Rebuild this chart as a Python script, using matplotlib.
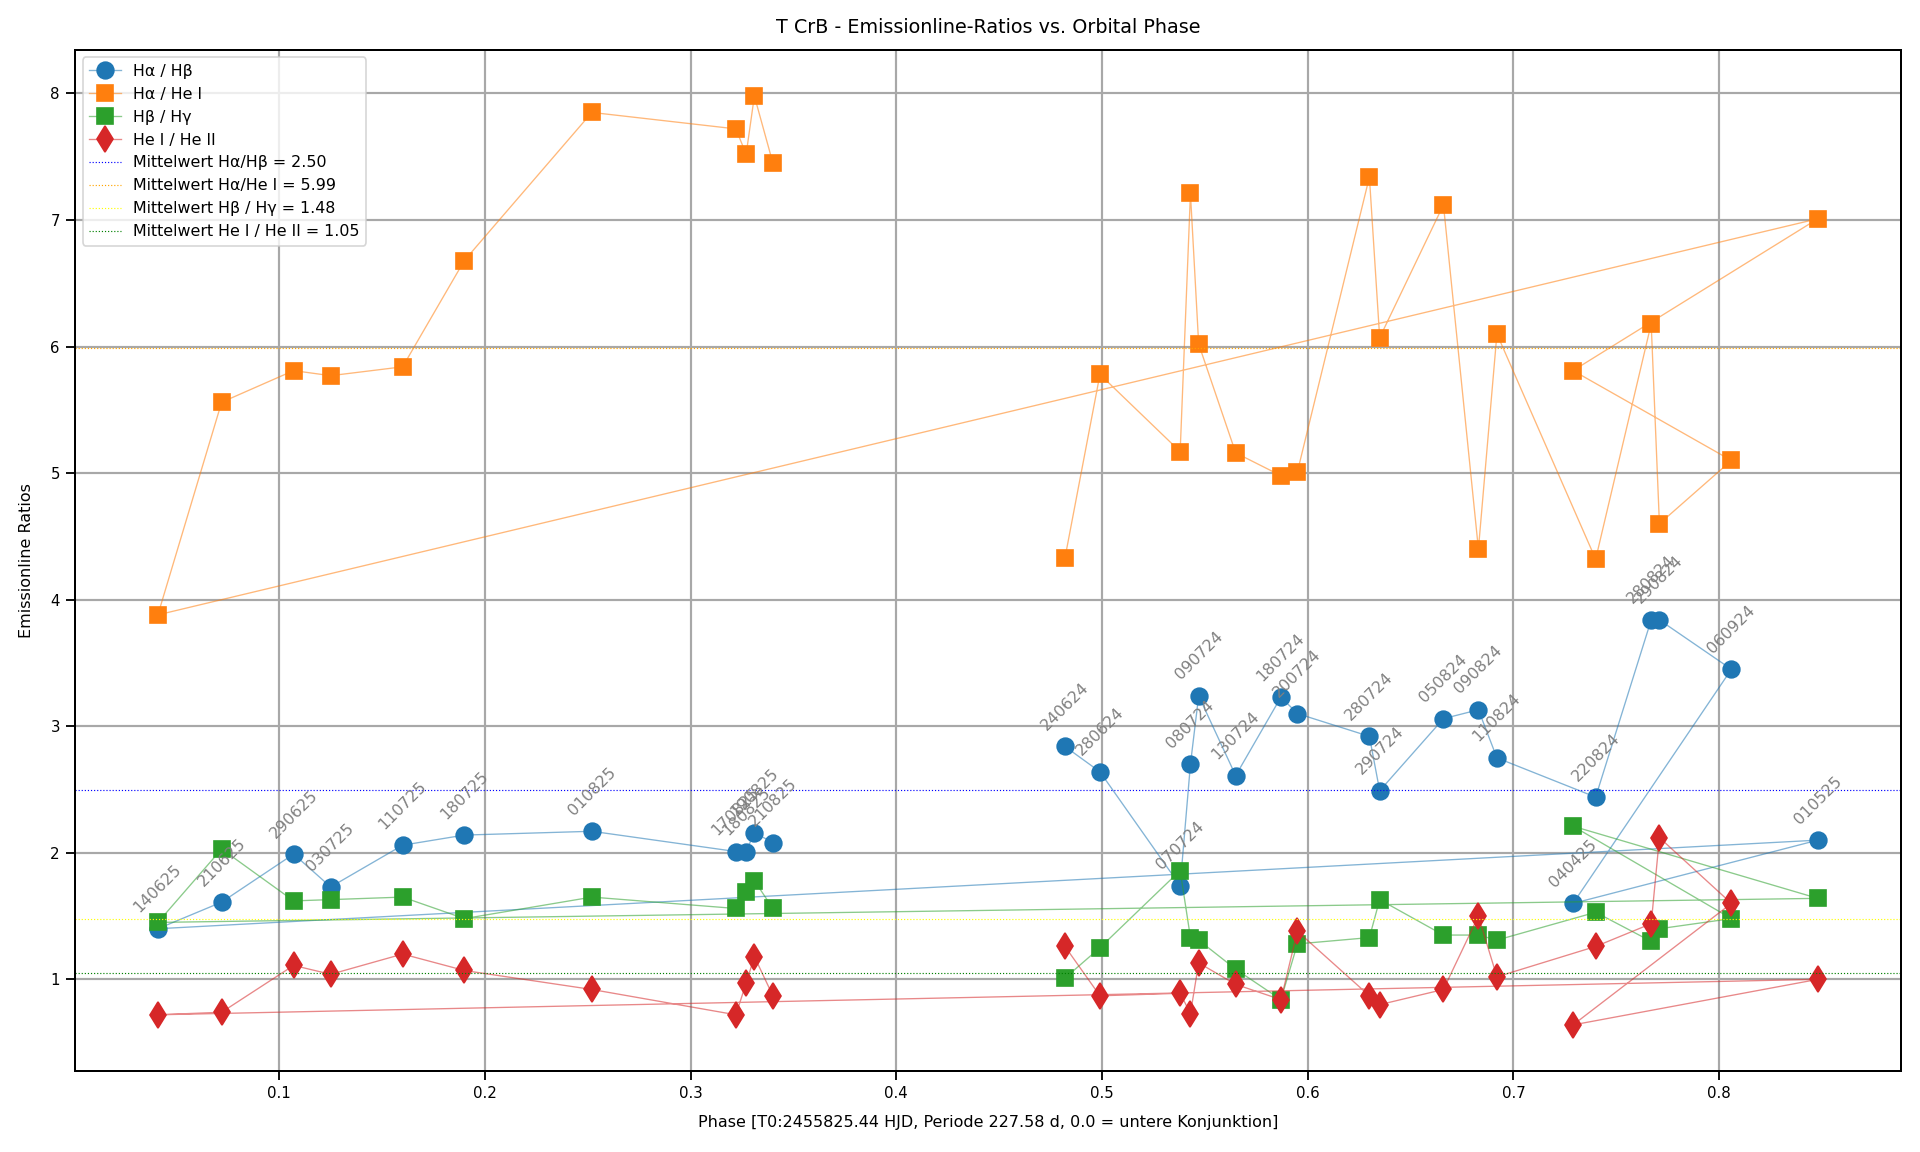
import matplotlib.pyplot as plt
from matplotlib.colors import to_rgba

# observation dates (ddmmyy) in chronological order
dates = ['240624', '280624', '070724', '080724', '090724', '130724', '180724', '200724',
         '280724', '290724', '050824', '090824', '110824', '220824', '280824', '290824',
         '060924', '040425', '010525', '140625', '210625', '290625', '030725', '110725',
         '180725', '010825', '170825', '180825', '190825', '210825']

phase = [0.482, 0.499, 0.538, 0.543, 0.547, 0.565, 0.587, 0.595,
         0.630, 0.635, 0.666, 0.683, 0.692, 0.740, 0.767, 0.771,
         0.806, 0.729, 0.848, 0.041, 0.072, 0.107, 0.125, 0.160,
         0.190, 0.252, 0.322, 0.327, 0.331, 0.340]

ha_hb = [2.84, 2.64, 1.74, 2.70, 3.24, 2.61, 3.23, 3.10,
         2.92, 2.49, 3.06, 3.13, 2.75, 2.44, 3.84, 3.84,
         3.45, 1.60, 2.10, 1.40, 1.61, 1.99, 1.73, 2.06,
         2.14, 2.17, 2.01, 2.01, 2.16, 2.08]

ha_hei = [4.33, 5.78, 5.17, 7.21, 6.02, 5.16, 4.98, 5.01,
          7.34, 6.07, 7.12, 4.40, 6.10, 4.32, 6.18, 4.60,
          5.10, 5.81, 7.01, 3.88, 5.56, 5.81, 5.77, 5.84,
          6.68, 7.85, 7.72, 7.52, 7.98, 7.45]

hb_hg = [1.01, 1.25, 1.86, 1.33, 1.31, 1.08, 0.84, 1.28,
         1.33, 1.63, 1.35, 1.35, 1.31, 1.53, 1.30, 1.40,
         1.48, 2.21, 1.64, 1.45, 2.03, 1.62, 1.63, 1.65,
         1.48, 1.65, 1.56, 1.69, 1.78, 1.56]

hei_heii = [1.26, 0.87, 0.89, 0.73, 1.13, 0.96, 0.84, 1.38,
            0.87, 0.80, 0.92, 1.50, 1.02, 1.26, 1.44, 2.12,
            1.60, 0.64, 1.00, 0.72, 0.74, 1.11, 1.04, 1.20,
            1.07, 0.92, 0.72, 0.97, 1.18, 0.87]

# mean values as given in the legend
mean_ha_hb = 2.50
mean_ha_hei = 5.99
mean_hb_hg = 1.48
mean_hei_heii = 1.05

fig, ax = plt.subplots(figsize=(16, 9.6), dpi=120)


def series(y, marker, c, label, ms=10):
    ax.plot(phase, y, marker=marker, linestyle='-', linewidth=0.8,
            color=to_rgba(c, 0.55), markerfacecolor=c, markersize=ms, label=label)


series(ha_hb, 'o', 'C0', 'Hα / Hβ')
series(ha_hei, 's', 'C1', 'Hα / He I')
series(hb_hg, 's', 'C2', 'Hβ / Hγ')
series(hei_heii, 'd', 'C3', 'He I / He II', ms=11)

ax.axhline(mean_ha_hb, color='blue', linestyle=':', linewidth=0.7,
           label=f'Mittelwert Hα/Hβ = {mean_ha_hb:.2f}')
ax.axhline(mean_ha_hei, color='orange', linestyle=':', linewidth=0.7,
           label=f'Mittelwert Hα/He I = {mean_ha_hei:.2f}')
ax.axhline(mean_hb_hg, color='yellow', linestyle=':', linewidth=0.7,
           label=f'Mittelwert Hβ / Hγ = {mean_hb_hg:.2f}')
ax.axhline(mean_hei_heii, color='green', linestyle=':', linewidth=0.7,
           label=f'Mittelwert He I / He II = {mean_hei_heii:.2f}')

# date labels on the Ha/Hb points
for d, x, y in zip(dates, phase, ha_hb):
    ax.annotate(d, (x, y), textcoords='offset points', xytext=(0, 8),
                ha='center', va='bottom', rotation=45, fontsize=9.5, color='gray')

ax.set_title('T CrB - Emissionline-Ratios vs. Orbital Phase', fontsize=11.5, pad=10)
ax.set_xlabel('Phase [T0:2455825.44 HJD, Periode 227.58 d, 0.0 = untere Konjunktion]',
              fontsize=9.6, labelpad=8)
ax.set_ylabel('Emissionline Ratios', fontsize=9.6, labelpad=10)
ax.tick_params(labelsize=9, length=5.5, width=1.1)
for s in ax.spines.values():
    s.set_linewidth(1.2)
ax.grid(True, color='#a8a8a8', linewidth=1.3)
ax.legend(loc='upper left', fontsize=9.5)

plt.subplots_adjust(left=0.039, right=0.990, top=0.957, bottom=0.070)
plt.savefig('out.png')
